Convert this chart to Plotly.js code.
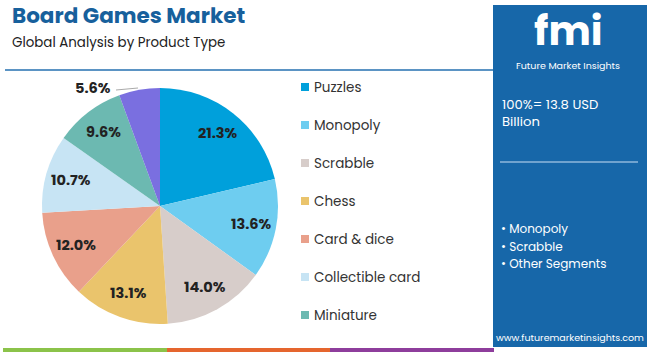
<!DOCTYPE html>
<html><head><meta charset="utf-8">
<script src="https://cdn.plot.ly/plotly-3.0.1.min.js"></script>
<style>html,body{margin:0;padding:0;background:#fff}#c{width:650px;height:352px}</style>
</head><body><div id="c"></div>
<script>
const categories = ["Puzzles","Monopoly","Scrabble","Chess","Card & dice","Collectible card","Miniature","Others"];
const shares = [21.3,13.6,14.0,13.1,12.0,10.7,9.6,5.6];
const colors = ["#00A0DB","#6ECDF0","#D7CDCA","#EAC46C","#E9A08B","#C7E4F4","#6CB9B1","#7A6FE0"];
const legendItems = ["Puzzles","Monopoly","Scrabble","Chess","Card & dice","Collectible card","Miniature"];
const sideBullets = ["Monopoly","Scrabble","Other Segments"];
const totalText = "100%= 13.8 USD<br>Billion";

const W=650,H=352;
const px=x=>x/W, py=y=>1-y/H;
const F="Poppins, 'Open Sans', sans-serif";

const shapes=[], ann=[];
// title underline
shapes.push({type:'line',xref:'paper',yref:'paper',x0:px(5),x1:px(493),y0:py(70),y1:py(70),line:{color:'#5b94c4',width:2}});
// right panel
shapes.push({type:'rect',xref:'paper',yref:'paper',x0:px(493),x1:px(647),y0:py(5),y1:py(347),fillcolor:'#1767A9',line:{width:0},layer:'below'});
// panel divider
shapes.push({type:'line',xref:'paper',yref:'paper',x0:px(500),x1:px(638),y0:py(162),y1:py(162),line:{color:'#8fb7dc',width:1.5}});
// bottom strip
[[3,167,'#8BC34A'],[167,330,'#E5652E'],[330,494,'#8E3D9C']].forEach(s=>{
  shapes.push({type:'rect',xref:'paper',yref:'paper',x0:px(s[0]),x1:px(s[1]),y0:0,y1:py(348),fillcolor:s[2],line:{width:0}});
});
// legend (manual, built from data)
legendItems.forEach((name,i)=>{
  const y=87+i*38;
  const ci=categories.indexOf(name);
  shapes.push({type:'rect',xref:'paper',yref:'paper',x0:px(301),x1:px(309),y0:py(y+4),y1:py(y-4),fillcolor:colors[ci],line:{width:0}});
  ann.push({xref:'paper',yref:'paper',x:px(312),y:py(y),xanchor:'left',yanchor:'middle',showarrow:false,text:name,font:{family:F,size:13.5,color:'#333'}});
});
// titles
ann.push({xref:'paper',yref:'paper',x:px(10),y:py(16),xanchor:'left',yanchor:'middle',showarrow:false,text:'<b>Board Games Market</b>',font:{family:F,size:21.5,color:'#17609C'}});
ann.push({xref:'paper',yref:'paper',x:px(10),y:py(42),xanchor:'left',yanchor:'middle',showarrow:false,text:'Global Analysis by Product Type',font:{family:F,size:13.4,color:'#222'}});
// logo
ann.push({xref:'paper',yref:'paper',x:px(568),y:py(31),xanchor:'center',yanchor:'middle',showarrow:false,
  text:'<b>fmi</b>',font:{family:F,size:40,color:'#ffffff'}});
ann.push({xref:'paper',yref:'paper',x:px(568),y:py(65),xanchor:'center',yanchor:'middle',showarrow:false,
  text:'Future Market Insights',font:{family:F,size:9.5,color:'#ffffff'}});
// total text
ann.push({xref:'paper',yref:'paper',x:px(500),y:py(113),xanchor:'left',yanchor:'middle',align:'left',showarrow:false,text:totalText,font:{family:F,size:13.2,color:'#ffffff'}});
sideBullets.forEach((t,i)=>{
  ann.push({xref:'paper',yref:'paper',x:px(499),y:py(229+i*17),xanchor:'left',yanchor:'middle',showarrow:false,text:'• '+t,font:{family:F,size:12,color:'#ffffff'}});
});
ann.push({xref:'paper',yref:'paper',x:px(570),y:py(337),xanchor:'center',yanchor:'middle',showarrow:false,text:'www.futuremarketinsights.com',font:{family:F,size:9.5,color:'#ffffff'}});

// pie slice labels at a fixed fraction of the radius, derived from the shares
const cx=160, cy=206, R=118, lr=93;
const total=shares.reduce((a,b)=>a+b,0);
let cum=0;
shares.forEach((v,i)=>{
  const mid=(cum+v/2)/total; cum+=v;
  const th=(90-360*mid)*Math.PI/180;
  if(i===shares.length-1){
    ann.push({xref:'paper',yref:'paper',x:px(113),y:py(88),xanchor:'right',yanchor:'middle',showarrow:false,text:'<b>'+v.toFixed(1)+'%</b>',font:{family:F,size:14.5,color:'#222'}});
    return;
  }
  ann.push({xref:'paper',yref:'paper',x:px(cx+lr*Math.cos(th)),y:py(cy-lr*Math.sin(th)),xanchor:'center',yanchor:'middle',showarrow:false,
    text:'<b>'+v.toFixed(1)+'%</b>',font:{family:F,size:14.5,color:'#222'}});
});
shapes.push({type:'line',xref:'paper',yref:'paper',x0:px(116),x1:px(138),y0:py(90),y1:py(88),line:{color:'#aaa',width:1}});

const trace={type:'pie',values:shares,labels:categories,sort:false,direction:'clockwise',rotation:0,
  marker:{colors:colors,line:{width:0}},textinfo:'none',
  domain:{x:[px(cx-R),px(cx+R)],y:[py(cy+R),py(cy-R)]},showlegend:false,hoverinfo:'none'};

Plotly.newPlot('c',[trace],{width:W,height:H,margin:{l:0,r:0,t:0,b:0},paper_bgcolor:'#fff',showlegend:false,shapes:shapes,annotations:ann},{staticPlot:true});
</script></body></html>
